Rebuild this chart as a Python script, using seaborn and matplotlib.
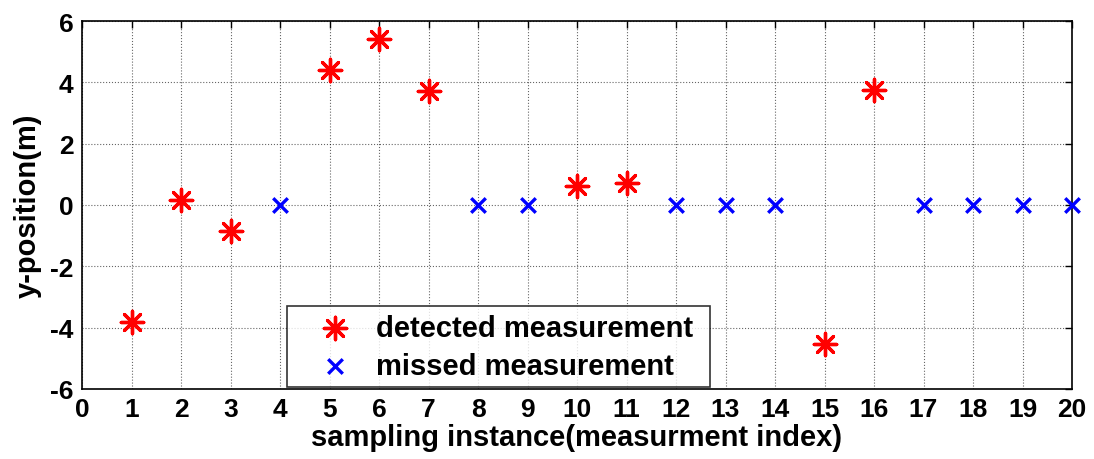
import matplotlib
matplotlib.use("Agg")
import matplotlib.pyplot as plt
import seaborn as sns

det_x = [1, 2, 3, 5, 6, 7, 10, 11, 15, 16]
det_y = [-3.8, 0.15, -0.85, 4.4, 5.42, 3.72, 0.62, 0.72, -4.52, 3.76]
miss_x = [4, 8, 9, 12, 13, 14, 17, 18, 19, 20]
miss_y = [0, 0, 0, 0, 0, 0, 0, 0, 0, 0]
xticks = list(range(0, 21))
yticks = [-6, -4, -2, 0, 2, 4, 6]

sns.set_style("white")
plt.rcParams['font.family'] = ['Liberation Sans', 'DejaVu Sans']
plt.rcParams['font.weight'] = 'bold'
plt.rcParams['axes.unicode_minus'] = False
plt.rcParams['text.color'] = 'black'
plt.rcParams['axes.labelcolor'] = 'black'
plt.rcParams['xtick.color'] = 'black'
plt.rcParams['ytick.color'] = 'black'

fig = plt.figure(figsize=(10.94, 4.6), dpi=100)
ax = fig.add_axes([82/1094, 1 - 390/460, 990/1094, 368/460])

sns.scatterplot(x=det_x, y=det_y, marker=(8, 2, 0), color='red', edgecolor='red',
                s=260, linewidth=2.4, label='detected measurement', ax=ax, clip_on=False, zorder=3)
sns.scatterplot(x=miss_x, y=miss_y, marker='x', color='blue', edgecolor='blue',
                s=110, linewidth=2.4, label='missed measurement', ax=ax, clip_on=False, zorder=3)

ax.set_xlim(0, 20)
ax.set_ylim(-6, 6)
ax.set_xticks(xticks)
ax.set_yticks(yticks)
ax.grid(True, color='black', linestyle=':', linewidth=0.8, alpha=0.6)
ax.tick_params(direction='in', top=True, right=True, length=5, width=1, labelsize=19, pad=6,
               colors='black')
for lab in ax.get_xticklabels() + ax.get_yticklabels():
    lab.set_fontweight('bold')
for s in ax.spines.values():
    s.set_color('black')
    s.set_linewidth(1.2)
ax.set_xlabel('sampling instance(measurment index)', fontsize=21, fontweight='bold', labelpad=1,
              color='black')
ax.set_ylabel('y-position(m)', fontsize=21, fontweight='bold', labelpad=6, color='black')

leg = ax.legend(loc='lower left', bbox_to_anchor=(0.207, 0.005, 0.427, 0.23), mode='expand',
                fontsize=21, frameon=True, fancybox=False, edgecolor='black',
                borderaxespad=0, borderpad=0.26, handlelength=2.8, handletextpad=0.0,
                labelspacing=0.33, markerscale=1.0)
leg.get_frame().set_linewidth(1.2)
for t in leg.get_texts():
    t.set_fontweight('bold')
    t.set_color('black')

fig.savefig('out.png', dpi=100)
